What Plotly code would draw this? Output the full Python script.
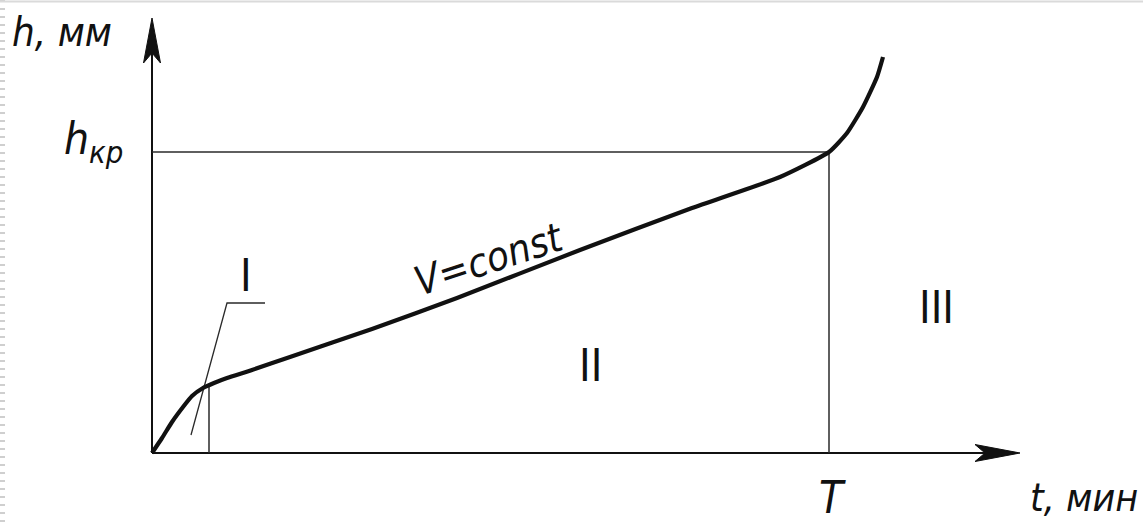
import plotly.graph_objects as go

# Wear curve h(t): running-in (I), steady wear V=const (II), catastrophic wear (III)
curve_t = [0, 10, 20, 31, 40, 51, 62, 75, 100, 138, 220, 305, 428, 540, 628, 677, 695, 711, 725, 731]
curve_h = [0, 15, 31, 46, 57, 65, 70, 75, 83, 96, 124, 155, 203, 245, 276, 301, 320, 346, 376, 396]

t_running_in = 57      # end of running-in period
h_running_in = 68
T_value = 677          # tool life T
h_kr_value = 301       # critical wear h_кр

# Leader line pointing at zone I
leader_t = [39, 75, 113]
leader_h = [18, 150, 150]

# Axis extents (arrow tips)
t_axis_end = 868
h_axis_end = 435
arrow_len = 45
arrow_half = 8.5
arrow_notch = 10

INK = "#111111"
THIN = "#2a2a2a"
FONT = "DejaVu Sans Condensed, Liberation Sans, sans-serif"

fig = go.Figure()

def line(x, y, width, color, **kw):
    fig.add_trace(go.Scatter(x=x, y=y, mode="lines", hoverinfo="skip",
                             line=dict(width=width, color=color, **kw)))

# page ruler marks and top border
line([-149.5, -149.5], [-69, 453], 5, "#cfcfcf", dash="2px,6px")
line([-152, 991], [451.5, 451.5], 2, "#dadada")

# axes
line([0, t_axis_end - arrow_notch], [0, 0], 2, INK)
line([0, 0], [0, h_axis_end - arrow_notch], 2, INK)

# arrowheads
xa = t_axis_end
fig.add_trace(go.Scatter(
    x=[xa, xa - arrow_len, xa - arrow_len + arrow_notch, xa - arrow_len, xa],
    y=[0, arrow_half, 0, -arrow_half, 0],
    mode="lines", fill="toself", fillcolor=INK, hoverinfo="skip",
    line=dict(width=1, color=INK)))
ya = h_axis_end
fig.add_trace(go.Scatter(
    x=[0, arrow_half, 0, -arrow_half, 0],
    y=[ya, ya - arrow_len, ya - arrow_len + arrow_notch, ya - arrow_len, ya],
    mode="lines", fill="toself", fillcolor=INK, hoverinfo="skip",
    line=dict(width=1, color=INK)))

# reference lines
line([0, T_value], [h_kr_value, h_kr_value], 1.5, THIN)
line([T_value, T_value], [0, h_kr_value], 1.5, THIN)
line([t_running_in, t_running_in], [0, h_running_in], 1.5, THIN)
line(leader_t, leader_h, 1.3, THIN)

# wear curve
fig.add_trace(go.Scatter(x=curve_t, y=curve_h, mode="lines", hoverinfo="skip",
                         line=dict(width=4.2, color=INK, shape="spline", smoothing=0.5)))

def label(text, x, y, size, angle=0, italic=True, xanchor="center"):
    fig.add_annotation(x=x, y=y, text=f"<i>{text}</i>" if italic else text,
                       showarrow=False, xanchor=xanchor, yanchor="middle",
                       textangle=angle,
                       font=dict(family=FONT, size=size, color=INK))

label("h, мм", -142, 421, 40, xanchor="left")
label("h<sub>кр</sub>", -90, 312, 44, xanchor="left")
label("t, мин", 876, -44, 39, xanchor="left")
label("T", 680, -44, 44)
label("V=const", 337, 194, 40, angle=-18)
label("I", 94, 178, 44, italic=False)
label("II", 438, 88, 44, italic=False)
label("III", 784, 146, 44, italic=False)

fig.update_layout(
    width=1143, height=522, autosize=False,
    margin=dict(l=0, r=0, t=0, b=0),
    paper_bgcolor="white", plot_bgcolor="white",
    showlegend=False,
    xaxis=dict(range=[-152, 991], visible=False, fixedrange=True),
    yaxis=dict(range=[-69, 453], visible=False, fixedrange=True),
)

fig.write_html("out.html")
